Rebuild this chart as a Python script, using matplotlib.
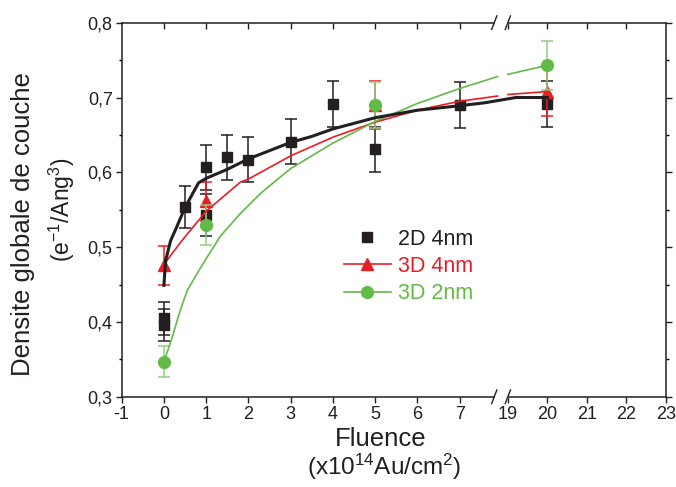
import numpy as np
import matplotlib
matplotlib.use('Agg')
import matplotlib.pyplot as plt
from matplotlib.lines import Line2D, TICKDOWN
from matplotlib.ticker import MultipleLocator, NullLocator

plt.rcParams['font.family'] = ['Liberation Sans', 'DejaVu Sans']
plt.rcParams['mathtext.default'] = 'regular'
plt.rcParams['axes.unicode_minus'] = False

# measured points (fluence in 1e14 Au/cm2)
x_2d4 = [0, 0, 0.5, 1, 1, 1.5, 2, 3, 4, 5, 7, 20]
y_2d4 = [0.405, 0.396, 0.554, 0.607, 0.543, 0.620, 0.617, 0.641, 0.691, 0.631, 0.690, 0.691]
e_2d4 = [0.022, 0.022, 0.028, 0.030, 0.028, 0.030, 0.030, 0.030, 0.031, 0.030, 0.031, 0.031]

x_3d4 = [0, 1, 5, 20]
y_3d4 = [0.476, 0.5615, 0.690, 0.708]
e_3d4 = [0.026, 0.026, 0.032, 0.033]

x_3d2 = [0, 1, 5, 20]
y_3d2 = [0.347, 0.530, 0.690, 0.743]
e_3d2 = [0.021, 0.027, 0.031, 0.033]

# fit curves
fit_2d4_x = [0, 0.04, 0.16, 0.28, 0.5, 0.82, 1, 1.5, 2, 3, 3.5, 4, 5, 6, 7, 7.6, 19.2, 20]
fit_2d4_y = [0.449, 0.482, 0.509, 0.524, 0.553, 0.586, 0.592, 0.604, 0.618, 0.640, 0.648,
             0.658, 0.673, 0.683, 0.689, 0.693, 0.700, 0.700]

fit_3d4_x = [0, 0.12, 0.43, 1, 1.81, 2, 3, 4, 5, 6, 7, 7.9]
fit_3d4_y = [0.476, 0.486, 0.509, 0.548, 0.587, 0.591, 0.622, 0.647, 0.667, 0.683, 0.695, 0.702]
fit_3d4_x2 = [19, 20]
fit_3d4_y2 = [0.704, 0.708]

fit_3d2_x = [0, 0.2, 0.36, 0.55, 0.83, 1.06, 1.34, 1.81, 2.29, 2.76, 3, 4, 5, 6, 7, 7.9]
fit_3d2_y = [0.347, 0.380, 0.411, 0.442, 0.469, 0.490, 0.515, 0.545, 0.572, 0.594, 0.605,
             0.639, 0.668, 0.692, 0.712, 0.728]
fit_3d2_x2 = [19, 20]
fit_3d2_y2 = [0.731, 0.743]

xticks = [-1, 0, 1, 2, 3, 4, 5, 6, 7, 19, 20, 21, 22, 23]
yticks = [0.3, 0.4, 0.5, 0.6, 0.7, 0.8]

BLACK = '#231F20'
RED = '#ED1C24'
GREEN = '#62BB46'
GREEN_ERR = '#8FCF7E'

# broken x axis: -1..7.9 | 19..23
XB0, XB1 = 7.9, 19.0
P1 = 8.142
R = 0.934


def fwd(x):
    x = np.asarray(x, dtype=float)
    mid = XB0 + (x - XB0) * (P1 - XB0) / (XB1 - XB0)
    return np.where(x <= XB0, x, np.where(x >= XB1, P1 + (x - XB1) * R, mid))


def inv(p):
    p = np.asarray(p, dtype=float)
    mid = XB0 + (p - XB0) * (XB1 - XB0) / (P1 - XB0)
    return np.where(p <= XB0, p, np.where(p >= P1, XB1 + (p - P1) / R, mid))


fig = plt.figure(figsize=(6.76, 4.87), dpi=100)
ax = fig.add_axes([0.18, 0.1852, 0.8047, 0.7682])
ax.set_xscale('function', functions=(fwd, inv))

# data
ax.errorbar(x_2d4, y_2d4, yerr=e_2d4, fmt='s', color=BLACK, ms=7.5, capsize=4,
            elinewidth=1.1, capthick=1.1, zorder=3)
ax.errorbar(x_3d4, y_3d4, yerr=e_3d4, fmt='^', color=RED, ms=8.5, capsize=4,
            elinewidth=1.1, capthick=1.1, zorder=4)
ax.errorbar(x_3d2, y_3d2, yerr=e_3d2, fmt='o', color=GREEN, ecolor=GREEN_ERR, ms=8.5,
            capsize=4, elinewidth=1.1, capthick=1.1, zorder=5)

# fits
ax.plot(fit_3d4_x, fit_3d4_y, color=RED, lw=1.2, zorder=6)
ax.plot(fit_3d4_x2, fit_3d4_y2, color=RED, lw=1.2, zorder=6)
ax.plot(fit_3d2_x, fit_3d2_y, color=GREEN, lw=1.2, zorder=6)
ax.plot(fit_3d2_x2, fit_3d2_y2, color=GREEN, lw=1.2, zorder=6)
ax.plot(fit_2d4_x, fit_2d4_y, color=BLACK, lw=2.2, zorder=7)

ax.set_xlim(-1, 23)
ax.set_ylim(0.3, 0.8)
ax.set_xticks(xticks)
ax.set_xticklabels([str(t) for t in xticks])
ax.set_yticks(yticks)
ax.set_yticklabels([f'{v:.1f}'.replace('.', ',') for v in yticks])
ax.yaxis.set_minor_locator(MultipleLocator(0.05))
ax.xaxis.set_minor_locator(NullLocator())

for s in ax.spines.values():
    s.set_linewidth(1.1)
    s.set_color(BLACK)
ax.tick_params(axis='both', which='major', labelsize=13, length=4.5, width=1.0,
               colors=BLACK, pad=2)
ax.tick_params(axis='y', which='minor', length=2.2, width=1.0)
ax.tick_params(axis='y', which='both', right=True)

# top ticks point into the frame
ax.plot(xticks[1:-1], [0.8] * (len(xticks) - 2), ls='none', marker=TICKDOWN, ms=4.5,
        mew=1.0, color=BLACK, clip_on=False, zorder=8)

# break marks
p_lo, p_hi = fwd(-1), fwd(23)
gap_l = (fwd(7.82) - p_lo) / (p_hi - p_lo)
gap_r = (fwd(19.0) - p_lo) / (p_hi - p_lo)
dx, dy = 2.6 / 544, 6.8 / 374
for yy in (0, 1):
    ax.plot([gap_l + 0.003, gap_r - 0.003], [yy, yy], color='white', lw=2.5,
            transform=ax.transAxes, clip_on=False, zorder=10)
    for xx in (gap_l, gap_r):
        ax.plot([xx - dx, xx + dx], [yy - dy, yy + dy], color=BLACK, lw=1.0,
                transform=ax.transAxes, clip_on=False, zorder=11)

# legend
handles = [
    Line2D([], [], ls='none', marker='s', color=BLACK, ms=7),
    Line2D([], [], color=RED, lw=1.2, marker='^', ms=8.5),
    Line2D([], [], color=GREEN, lw=1.2, marker='o', ms=8.5),
]
leg = ax.legend(handles, ['2D 4nm', '3D 4nm', '3D 2nm'], frameon=False, fontsize=15.5,
                handlelength=2.17, handletextpad=0.34, labelspacing=0.28,
                loc='upper left', bbox_to_anchor=(344 / 676, 1 - 229 / 487),
                bbox_transform=fig.transFigure, borderpad=0, borderaxespad=0)
leg.set_zorder(12)
for txt, c in zip(leg.get_texts(), [BLACK, RED, GREEN]):
    txt.set_color(c)

# axis labels
fig.text(23.5 / 676, 1 - 224 / 487, 'Densite globale de couche', rotation=90,
         ha='center', va='center', fontsize=18.5, color=BLACK)
fig.text(61.5 / 676, 1 - 210 / 487, '(e$^{-1}$/Ang$^{3}$)', rotation=90,
         ha='center', va='center', fontsize=16.5, color=BLACK)
fig.text(381 / 676, 1 - 439 / 487, 'Fluence', ha='center', va='center',
         fontsize=18.5, color=BLACK)
fig.text(384 / 676, 1 - 467 / 487, '(x10$^{14}$Au/cm$^{2}$)', ha='center', va='center',
         fontsize=17.5, color=BLACK)

fig.savefig('out.png', dpi=100)
